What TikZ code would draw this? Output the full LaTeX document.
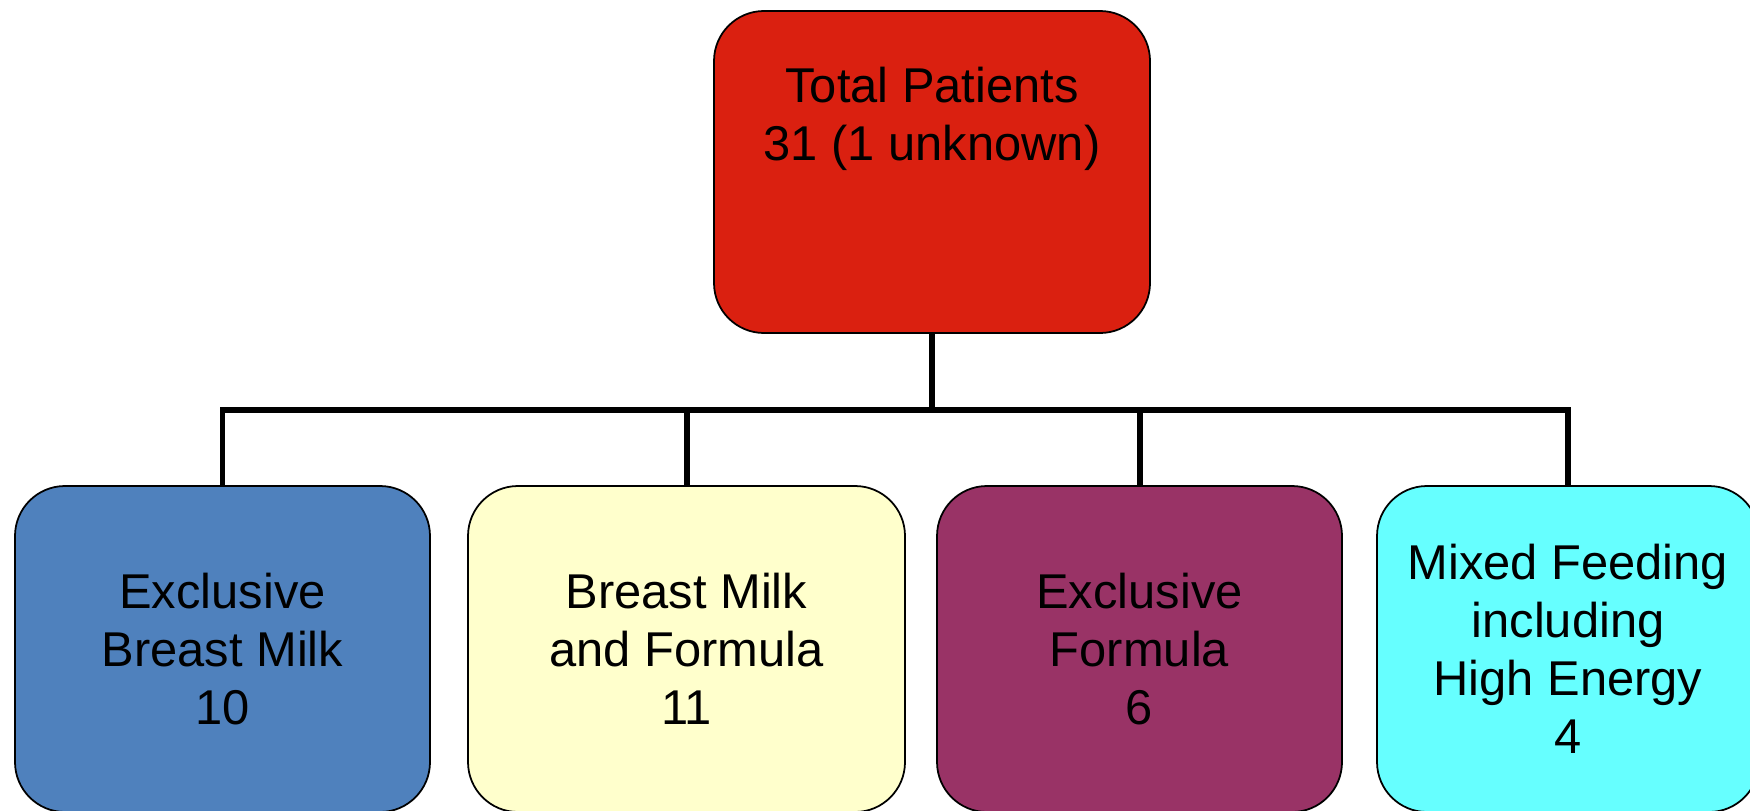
\documentclass[tikz,border=0pt]{standalone}
\usepackage{fontspec}
\setmainfont{Liberation Sans}
\definecolor{totalred}{HTML}{DA2010}
\definecolor{milkblue}{HTML}{4F81BD}
\definecolor{mixyellow}{HTML}{FFFFCC}
\definecolor{formulapurple}{HTML}{993366}
\definecolor{energycyan}{HTML}{66FFFF}
\begin{document}
\begin{tikzpicture}
    [font=\fontsize{13.9}{16.5}\selectfont,
    box/.style={shape=rectangle,rounded corners=0.5cm,draw=black,line width=0.5pt,
                align=center,inner sep=0pt,text=black},
    edge/.style={line width=1.7pt,line join=miter}]

    \useasboundingbox (0,0) rectangle (17.5,8.1);
    \clip (0,0) rectangle (17.5,8.1);

    \node (total) [box,fill=totalred,minimum width=4.36cm,minimum height=3.22cm] at (9.32,6.38)
        {Total Patients\\31 (1 unknown)\\~\\~};
    \node (ebm) [box,fill=milkblue,minimum width=4.15cm,minimum height=3.26cm] at (2.225,1.61)
        {Exclusive\\Breast Milk\\10};
    \node (bmf) [box,fill=mixyellow,minimum width=4.37cm,minimum height=3.26cm] at (6.865,1.61)
        {Breast Milk\\and Formula\\11};
    \node (ef) [box,fill=formulapurple,minimum width=4.05cm,minimum height=3.26cm] at (11.395,1.61)
        {Exclusive\\Formula\\6};
    \node (mix) [box,fill=energycyan,minimum width=3.82cm,minimum height=3.26cm] at (15.68,1.61)
        {Mixed Feeding\\including\\High Energy\\4};

    \coordinate (bus) at (9.32,4.00);

    \draw [edge] (total.south) -- (bus);
    \draw [edge] (ebm.north) |- (bus);
    \draw [edge] (bmf.north) |- (bus);
    \draw [edge] (ef.north) |- (bus);
    \draw [edge] (mix.north) |- (bus);

\end{tikzpicture}
\end{document}
